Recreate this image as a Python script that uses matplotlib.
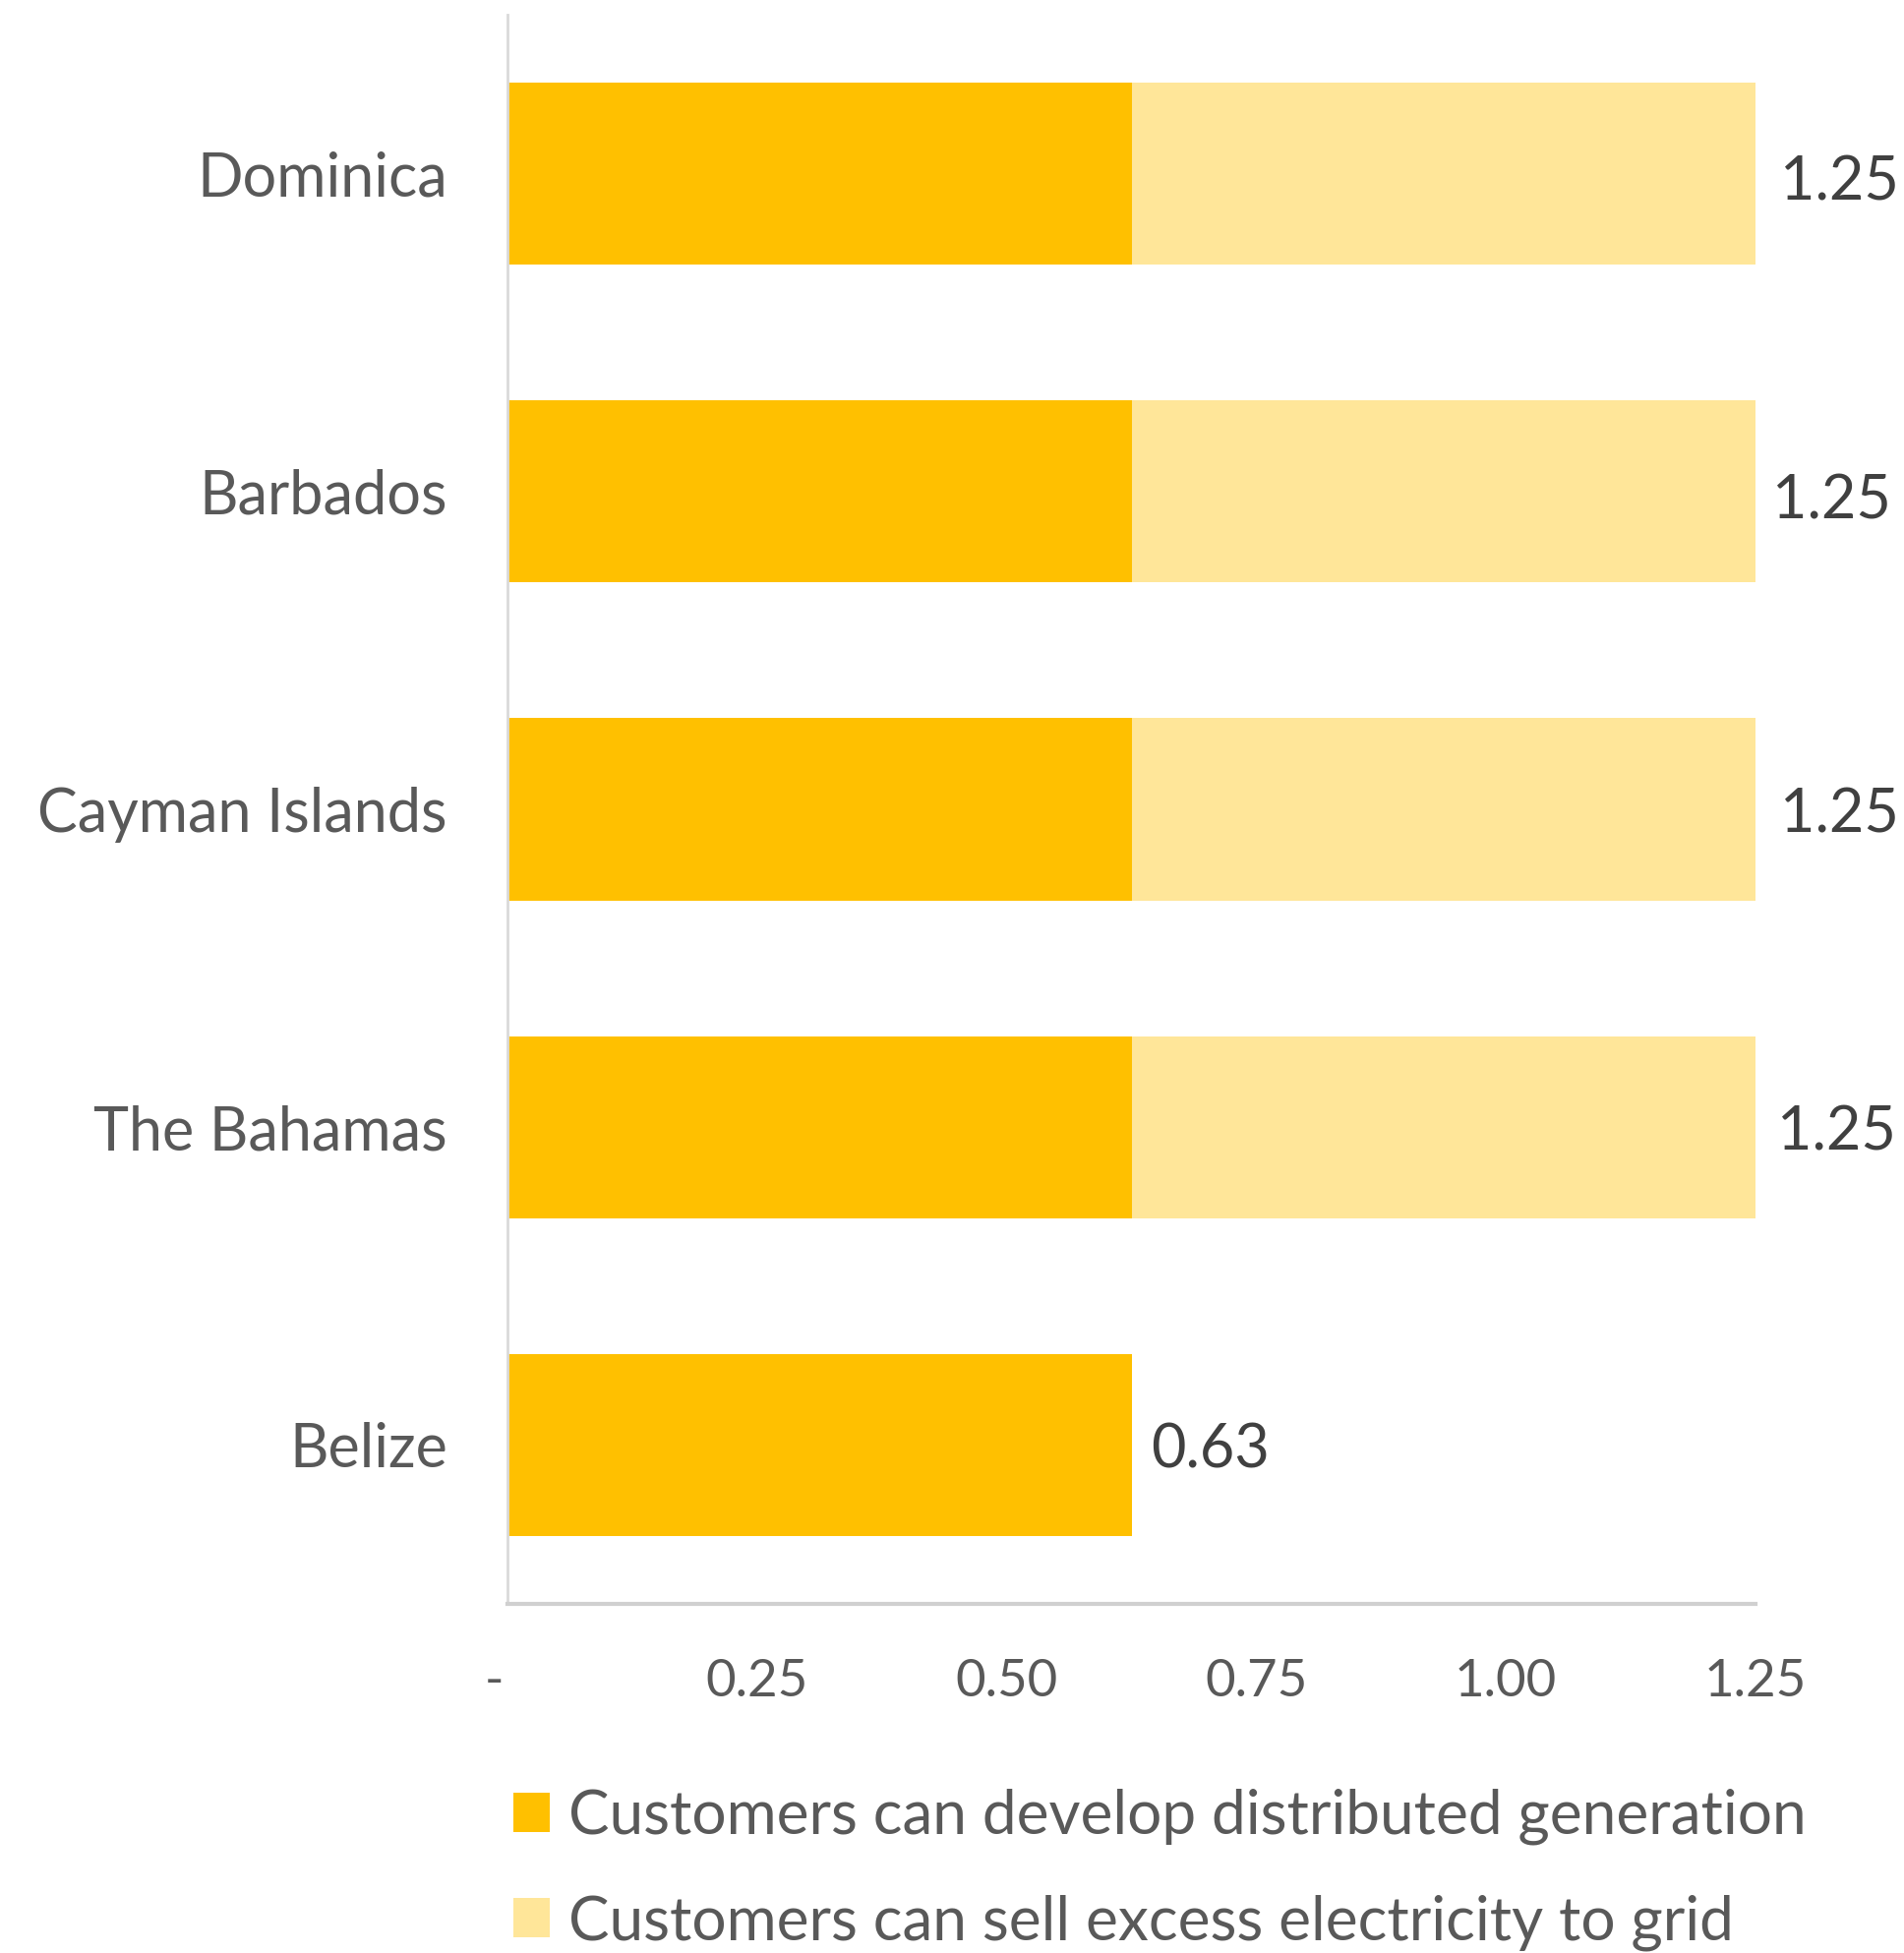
import matplotlib
matplotlib.use("Agg")
import matplotlib.pyplot as plt
from decimal import Decimal, ROUND_HALF_UP

# Data (top to bottom in the chart)
countries = ["Dominica", "Barbados", "Cayman Islands", "The Bahamas", "Belize"]
develop_dg = [0.625, 0.625, 0.625, 0.625, 0.625]
sell_excess = [0.625, 0.625, 0.625, 0.625, 0.0]
series_names = ["Customers can develop distributed generation",
                "Customers can sell excess electricity to grid"]
x_ticks = [0.0, 0.25, 0.50, 0.75, 1.00, 1.25]
x_tick_labels = ["-  ", "0.25", "0.50", "0.75", "1.00", "1.25"]

DARK = "#FFC000"
LIGHT = "#FFE699"
TEXT = "#595959"
FONT = ["Lato", "DejaVu Sans"]

plt.rcParams["font.family"] = FONT

fig = plt.figure(figsize=(19.36, 19.86), dpi=100)
ax = fig.add_axes([516 / 1936, 1 - 1631 / 1986, (1785 - 516) / 1936, (1631 - 15) / 1986])

ypos = list(range(len(countries)))
bar_h = 0.573
b1 = ax.barh(ypos, develop_dg, height=bar_h, color=DARK, label=series_names[0])
b2 = ax.barh(ypos, sell_excess, left=develop_dg, height=bar_h, color=LIGHT,
             label=series_names[1])

def fmt(v):
    return str(Decimal(str(v)).quantize(Decimal("0.01"), rounding=ROUND_HALF_UP))

# small per-label nudges for the total labels (points)
label_dx = [18, 12, 18, 16, 14]
label_dy = [-7, -7, -4, -4, -4]
for y, a, b, dx, dy in zip(ypos, develop_dg, sell_excess, label_dx, label_dy):
    total = a + b
    ax.annotate(fmt(total), xy=(total, y), xytext=(dx, dy), textcoords="offset points",
                ha="left", va="center", fontsize=44, color="#404040")

ax.set_ylim(len(countries) - 0.5, -0.5)
ax.set_xlim(0, 1.25)
ax.set_yticks(ypos)
ax.set_yticklabels(countries)
ax.set_xticks(x_ticks)
ax.set_xticklabels(x_tick_labels)
ax.tick_params(axis="y", length=0, pad=44, labelsize=44, labelcolor=TEXT)
ax.tick_params(axis="x", length=0, pad=40, labelsize=38, labelcolor=TEXT)

for s in ["top", "right"]:
    ax.spines[s].set_visible(False)
ax.spines["left"].set_color("#D9D9D9")
ax.spines["left"].set_linewidth(2)
ax.spines["bottom"].set_color("#D0D0D0")
ax.spines["bottom"].set_linewidth(3)

fig.legend(handles=[b1, b2], labels=series_names, loc="upper left",
           bbox_to_anchor=(497 / 1936, 1 - 1794 / 1986), frameon=False,
           fontsize=44.7, labelcolor=TEXT, handlelength=0.6, handleheight=0.6,
           handletextpad=0.3, labelspacing=0.8, borderaxespad=0)

fig.savefig("out.png", dpi=100)
